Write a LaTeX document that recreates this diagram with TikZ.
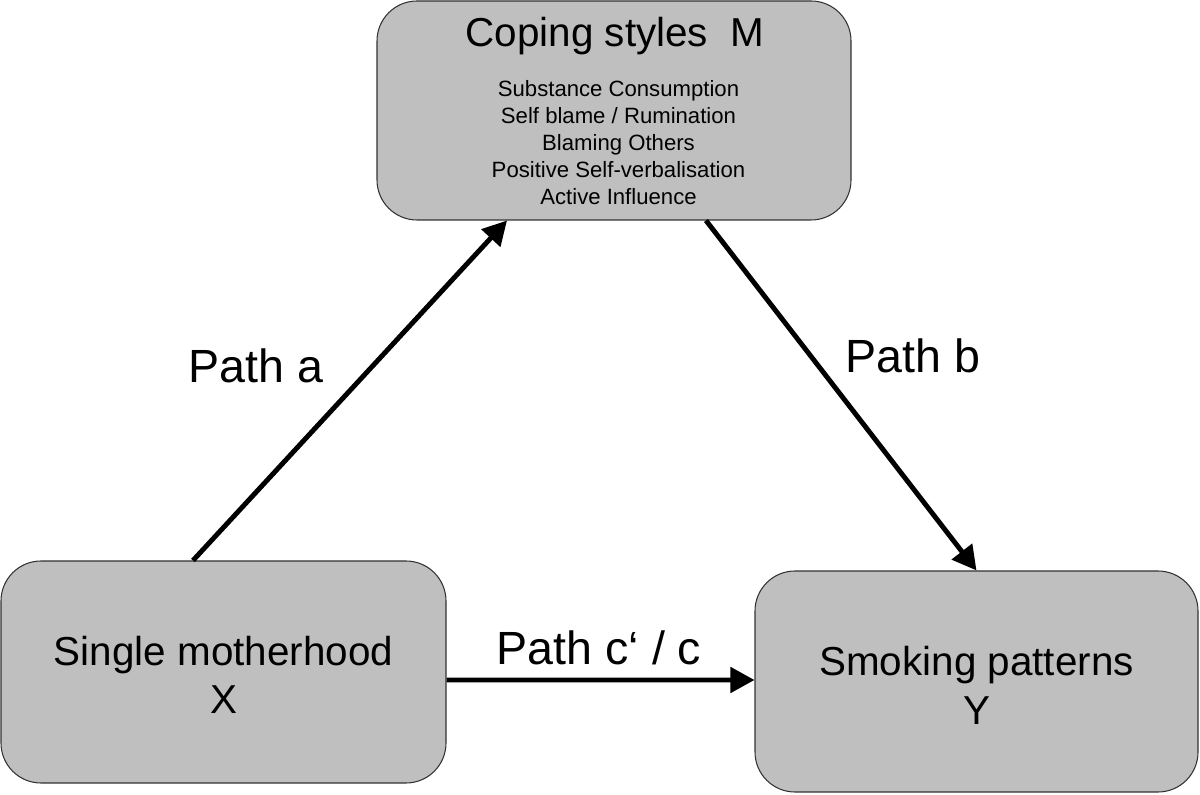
\documentclass[tikz,border=0pt]{standalone}
\usepackage{fontspec}
\setmainfont{Liberation Sans}
\usetikzlibrary{positioning,arrows.meta}
\tikzset{
  varbox/.style={draw=black!80, line width=0.6pt, rounded corners=0.8cm, fill=black!25, align=center},
  boxtext/.style={align=center, font=\fontsize{23}{27.5}\selectfont},
  listtext/.style={align=center, font=\fontsize{12.6}{15.3}\selectfont},
  patharrow/.style={-{Triangle[length=0.48cm, width=0.5cm]}, line width=2.8pt},
  pathlabel/.style={font=\fontsize{26.5}{30}\selectfont}
}

\begin{document}
\begin{tikzpicture}
  \useasboundingbox (0,0) rectangle (24,15.88);
  % the three variables
  \node[varbox, minimum width=9.48cm, minimum height=4.38cm] (M) at (12.28,13.67) {};
  \node[varbox, minimum width=8.9cm, minimum height=4.44cm] (X) at (4.47,2.44) {};
  \node[varbox, minimum width=8.86cm, minimum height=4.42cm] (Y) at (19.53,2.25) {};
  \node[font=\fontsize{23}{27.5}\selectfont] (mtitle) at (12.3,15.16) {Coping styles\ \ M};
  \node[listtext] (mlist) at (12.37,13.03) {Substance Consumption\\Self blame / Rumination\\Blaming Others\\Positive Self-verbalisation\\Active Influence};
  \node[boxtext] (xtext) at ([yshift=-0.06cm]X.center) {Single motherhood\\X};
  \node[boxtext] (ytext) at ([yshift=-0.08cm]Y.center) {Smoking patterns\\Y};
  % paths
  \draw[patharrow] ([xshift=-0.61cm]X.north) -- ([xshift=-2.14cm]M.south);
  \draw[patharrow] ([xshift=1.84cm]M.south) -- (Y.north);
  \draw[patharrow] ([yshift=-0.16cm]X.east) -- ([yshift=0.03cm]Y.west);
  \node[pathlabel] (la) at (5.12,8.56) {Path a};
  \node[pathlabel] (lb) at (18.26,8.76) {Path b};
  \node[pathlabel] (lc) at (11.98,2.92) {Path c‘ / c};
\end{tikzpicture}
\end{document}
